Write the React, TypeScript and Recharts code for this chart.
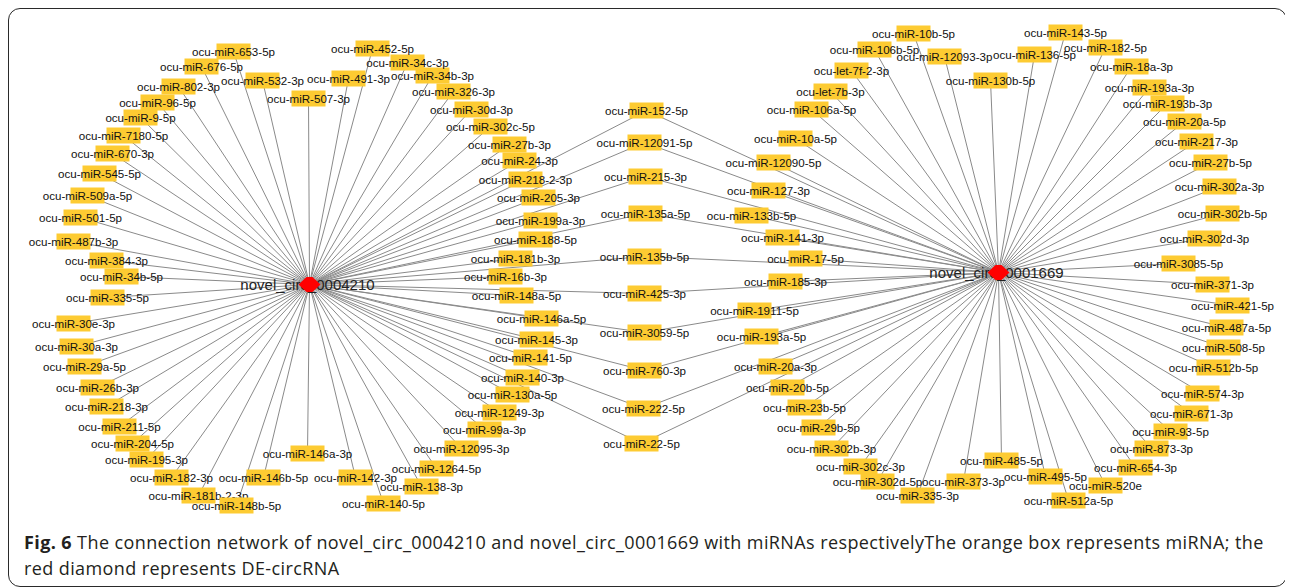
import React from 'react';
import { ScatterChart, Scatter, XAxis, YAxis, ReferenceLine } from 'recharts';

// hubs (DE-circRNAs)
const hubNames = ['novel_circ_0004210', 'novel_circ_0001669'];
const hubX = [310, 999];
const hubY = [285, 273];

// miRNAs linked only to novel_circ_0004210
const leftMirnas = [
  'ocu-miR-653-5p', 'ocu-miR-676-5p', 'ocu-miR-802-3p', 'ocu-miR-532-3p', 'ocu-miR-96-5p',
  'ocu-miR-9-5p', 'ocu-miR-7180-5p', 'ocu-miR-670-3p', 'ocu-miR-545-5p', 'ocu-miR-509a-5p',
  'ocu-miR-501-5p', 'ocu-miR-487b-3p', 'ocu-miR-384-3p', 'ocu-miR-34b-5p', 'ocu-miR-335-5p',
  'ocu-miR-30e-3p', 'ocu-miR-30a-3p', 'ocu-miR-29a-5p', 'ocu-miR-26b-3p', 'ocu-miR-218-3p',
  'ocu-miR-211-5p', 'ocu-miR-204-5p', 'ocu-miR-195-3p', 'ocu-miR-182-3p', 'ocu-miR-181b-2-3p',
  'ocu-miR-148b-5p', 'ocu-miR-146b-5p', 'ocu-miR-146a-3p', 'ocu-miR-142-3p', 'ocu-miR-140-5p',
  'ocu-miR-138-3p', 'ocu-miR-1264-5p', 'ocu-miR-12095-3p', 'ocu-miR-99a-3p', 'ocu-miR-1249-3p',
  'ocu-miR-130a-5p', 'ocu-miR-140-3p', 'ocu-miR-141-5p', 'ocu-miR-145-3p', 'ocu-miR-146a-5p',
  'ocu-miR-148a-5p', 'ocu-miR-16b-3p', 'ocu-miR-181b-3p', 'ocu-miR-188-5p', 'ocu-miR-199a-3p',
  'ocu-miR-205-3p', 'ocu-miR-218-2-3p', 'ocu-miR-24-3p', 'ocu-miR-27b-3p', 'ocu-miR-302c-5p',
  'ocu-miR-30d-3p', 'ocu-miR-326-3p', 'ocu-miR-34b-3p', 'ocu-miR-34c-3p', 'ocu-miR-452-5p',
  'ocu-miR-491-3p', 'ocu-miR-507-3p',
];
const leftX = [
  234, 202, 179, 263, 158, 141, 124, 113, 100, 88,
  81, 74, 107, 122, 108, 74, 77, 85, 98, 107,
  120, 133, 147, 172, 199, 237, 264, 308, 356, 384,
  422, 437, 462, 485, 500, 513, 523, 531, 537, 542,
  517, 506, 516, 536, 541, 539, 526, 520, 510, 491,
  472, 454, 433, 408, 373, 349, 309,
];
const leftY = [
  52, 67, 87, 81, 103, 118, 136, 154, 174, 196,
  218, 242, 261, 277, 298, 324, 347, 367, 388, 407,
  427, 444, 460, 478, 496, 506, 478, 454, 478, 504,
  487, 469, 449, 430, 413, 395, 378, 358, 340, 319,
  296, 277, 259, 240, 221, 198, 180, 161, 145, 127,
  110, 92, 76, 63, 49, 79, 99,
];

// miRNAs linked only to novel_circ_0001669
const rightMirnas = [
  'ocu-miR-106a-5p', 'ocu-miR-10a-5p', 'ocu-miR-12090-5p', 'ocu-miR-127-3p', 'ocu-miR-133b-5p',
  'ocu-miR-141-3p', 'ocu-miR-17-5p', 'ocu-miR-185-3p', 'ocu-miR-1911-5p', 'ocu-miR-193a-5p',
  'ocu-miR-20a-3p', 'ocu-miR-20b-5p', 'ocu-miR-23b-5p', 'ocu-miR-29b-5p', 'ocu-miR-302b-3p',
  'ocu-miR-302c-3p', 'ocu-miR-302d-5p', 'ocu-miR-335-3p', 'ocu-miR-373-3p', 'ocu-miR-485-5p',
  'ocu-miR-495-5p', 'ocu-miR-512a-5p', 'ocu-miR-520e', 'ocu-miR-654-3p', 'ocu-miR-873-3p',
  'ocu-miR-93-5p', 'ocu-miR-671-3p', 'ocu-miR-574-3p', 'ocu-miR-512b-5p', 'ocu-miR-508-5p',
  'ocu-miR-487a-5p', 'ocu-miR-421-5p', 'ocu-miR-371-3p', 'ocu-miR-3085-5p', 'ocu-miR-302d-3p',
  'ocu-miR-302b-5p', 'ocu-miR-302a-3p', 'ocu-miR-27b-5p', 'ocu-miR-217-3p', 'ocu-miR-20a-5p',
  'ocu-miR-193b-3p', 'ocu-miR-193a-3p', 'ocu-miR-18a-3p', 'ocu-miR-182-5p', 'ocu-miR-143-5p',
  'ocu-miR-136-5p', 'ocu-miR-130b-5p', 'ocu-miR-12093-3p', 'ocu-miR-10b-5p', 'ocu-miR-106b-5p',
  'ocu-let-7f-2-3p', 'ocu-let-7b-3p',
];
const rightX = [
  812, 796, 774, 769, 752, 783, 806, 786, 755, 762,
  776, 788, 805, 819, 832, 861, 878, 918, 964, 1002,
  1046, 1069, 1106, 1136, 1152, 1171, 1192, 1203, 1214, 1224,
  1227, 1233, 1213, 1179, 1205, 1223, 1220, 1211, 1197, 1185,
  1168, 1150, 1132, 1106, 1066, 1035, 991, 945, 914, 875,
  852, 831,
];
const rightY = [
  110, 139, 163, 191, 216, 238, 259, 282, 311, 337,
  367, 388, 408, 428, 449, 467, 482, 496, 482, 461,
  477, 501, 486, 468, 449, 432, 414, 394, 368, 348,
  328, 306, 285, 264, 239, 214, 187, 163, 142, 122,
  104, 88, 67, 48, 33, 55, 81, 57, 34, 50,
  71, 92,
];

// miRNAs shared by both circRNAs
const sharedMirnas = [
  'ocu-miR-152-5p', 'ocu-miR-12091-5p', 'ocu-miR-215-3p', 'ocu-miR-135a-5p', 'ocu-miR-135b-5p',
  'ocu-miR-425-3p', 'ocu-miR-3059-5p', 'ocu-miR-760-3p', 'ocu-miR-222-5p', 'ocu-miR-22-5p',
];
const sharedX = [647, 645, 646, 646, 645, 645, 645, 645, 644, 642];
const sharedY = [111, 143, 177, 214, 257, 294, 333, 371, 409, 444];

const CHART_W = 1277;
const CHART_H = 520;
const ORIGIN = 9.5;

const hubs = hubNames.map((name, i) => ({ name, x: hubX[i], y: hubY[i] }));
const toNodes = (names: string[], xs: number[], ys: number[], links: number[]) =>
  names.map((name, i) => ({ name, x: xs[i], y: ys[i], links }));
const nodes = [
  ...toNodes(leftMirnas, leftX, leftY, [0]),
  ...toNodes(rightMirnas, rightX, rightY, [1]),
  ...toNodes(sharedMirnas, sharedX, sharedY, [0, 1]),
];
const edges = nodes.flatMap(n => n.links.map(h => ({ from: hubs[h], to: n })));

const MirnaNode = (props: any) => {
  const { cx, cy, payload } = props;
  if (cx == null || cy == null) return null;
  return (
    <g>
      <rect x={cx - 17} y={cy - 8} width={34} height={16} fill="#FDCB32" />
      <text x={cx} y={cy} dy={4} textAnchor="middle" fontSize={11.6}
        fontFamily="'Liberation Sans', Arial, sans-serif" fill="#111">
        {payload.name}
      </text>
    </g>
  );
};

const HubLabel = (props: any) => {
  const { cx, cy, payload } = props;
  if (cx == null || cy == null) return null;
  return (
    <text x={cx - 2} y={cy} dy={5} textAnchor="middle" fontSize={15}
      fontFamily="'Liberation Sans', Arial, sans-serif" fill="#222">
      {payload.name}
    </text>
  );
};

const HubDiamond = (props: any) => {
  const { cx, cy } = props;
  if (cx == null || cy == null) return null;
  const pts = `${cx - 11},${cy} ${cx - 3},${cy - 7.5} ${cx + 3},${cy - 7.5} ${cx + 11},${cy} ${cx + 3},${cy + 7.5} ${cx - 3},${cy + 7.5}`;
  return <polygon points={pts} fill="#FF0000" />;
};

const App: React.FC = () => {
  return (
    <div style={{
      width: 1277, height: 577, border: '1.5px solid #2a2a2a', borderRadius: 12,
      position: 'relative', overflow: 'hidden',
    }}>
      <ScatterChart width={CHART_W} height={CHART_H} margin={{ top: 0, right: 0, bottom: 0, left: 0 }}>
        <XAxis type="number" dataKey="x" domain={[ORIGIN, ORIGIN + CHART_W]} allowDataOverflow hide />
        <YAxis type="number" dataKey="y" domain={[ORIGIN, ORIGIN + CHART_H]} reversed allowDataOverflow hide />
        <Scatter data={hubs} shape={<HubLabel />} isAnimationActive={false} />
        {edges.map((e, i) => (
          <ReferenceLine
            key={`edge-${i}`}
            segment={[{ x: e.from.x, y: e.from.y }, { x: e.to.x, y: e.to.y }]}
            stroke="#8a8a8a"
            strokeWidth={1}
            ifOverflow="visible"
          />
        ))}
        <Scatter data={nodes} shape={<MirnaNode />} isAnimationActive={false} />
        <Scatter data={hubs} shape={<HubDiamond />} isAnimationActive={false} />
      </ScatterChart>
      <div style={{
        position: 'absolute', left: 15, top: 520, fontFamily: "'Open Sans', sans-serif",
        fontSize: 18, letterSpacing: '0.4px', lineHeight: '26px', color: '#231f20', whiteSpace: 'nowrap',
      }}>
        <b>Fig. 6</b> The connection network of novel_circ_0004210 and novel_circ_0001669 with miRNAs respectivelyThe orange box represents miRNA; the
        <br />
        red diamond represents DE-circRNA
      </div>
    </div>
  );
};

export default App;
